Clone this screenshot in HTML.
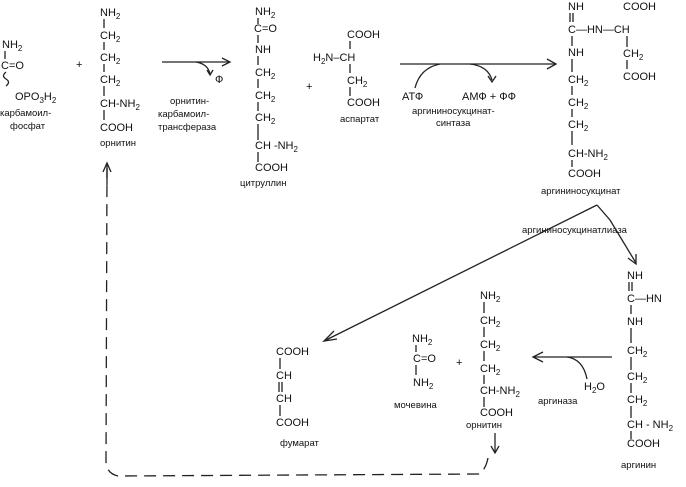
<!DOCTYPE html>
<html><head><meta charset="utf-8"><style>
html,body{margin:0;padding:0;background:#fff;}
svg{display:block;}
text{font-family:"Liberation Sans",sans-serif;font-size:11px;fill:#111;}
.s{font-size:8px;}
.l{font-size:9.5px;}
line,path,polyline{stroke:#222;stroke-width:1.3;fill:none;}
</style></head><body>
<svg width="686" height="487" viewBox="0 0 686 487">
<!-- carbamoyl phosphate -->
<text x="2" y="48">NH<tspan class="s" dy="3">2</tspan></text>
<line x1="5" y1="51" x2="5" y2="59"/>
<text x="1" y="69">C=O</text>
<path d="M6 72 q-5 4 0 7 q5 3 0 7"/>
<text x="15" y="100">OPO<tspan class="s" dy="3">3</tspan><tspan dy="-3">H</tspan><tspan class="s" dy="3">2</tspan></text>
<text class="l" x="0" y="116">карбамоил-</text>
<text class="l" x="10" y="129">фосфат</text>
<text x="76" y="68" font-size="13">+</text>
<!-- ornithine -->
<text x="100" y="16">NH<tspan class="s" dy="3">2</tspan></text>
<line x1="104" y1="19" x2="104" y2="28"/>
<text x="100" y="39">CH<tspan class="s" dy="3">2</tspan></text>
<line x1="104" y1="42" x2="104" y2="50"/>
<text x="100" y="61">CH<tspan class="s" dy="3">2</tspan></text>
<line x1="104" y1="64" x2="104" y2="72"/>
<text x="100" y="83">CH<tspan class="s" dy="3">2</tspan></text>
<line x1="104" y1="86" x2="104" y2="96"/>
<text x="100" y="107">CH-NH<tspan class="s" dy="3">2</tspan></text>
<line x1="104" y1="110" x2="104" y2="120"/>
<text x="100" y="131">COOH</text>
<text class="l" x="100" y="146">орнитин</text>
<!-- arrow 1 -->
<line x1="162" y1="62" x2="229" y2="62"/>
<polyline points="222,58 230,62 222,66"/>
<path d="M196 62 q12 2 14 12"/>
<polyline points="207,70 210,75 213,70"/>
<text x="215" y="83">Ф</text>
<text class="l" x="170" y="104">орнитин-</text>
<text class="l" x="158" y="117">карбамоил-</text>
<text class="l" x="158" y="130">трансфераза</text>
<!-- citrulline -->
<text x="255" y="15">NH<tspan class="s" dy="3">2</tspan></text>
<line x1="258" y1="18" x2="258" y2="24"/>
<text x="254" y="32">C=O</text>
<line x1="258" y1="35" x2="258" y2="43"/>
<text x="255" y="53">NH</text>
<line x1="258" y1="56" x2="258" y2="65"/>
<text x="255" y="76">CH<tspan class="s" dy="3">2</tspan></text>
<line x1="258" y1="79" x2="258" y2="88"/>
<text x="255" y="99">CH<tspan class="s" dy="3">2</tspan></text>
<line x1="258" y1="102" x2="258" y2="111"/>
<text x="255" y="121">CH<tspan class="s" dy="3">2</tspan></text>
<line x1="258" y1="124" x2="258" y2="140"/>
<text x="255" y="149">CH -NH<tspan class="s" dy="3">2</tspan></text>
<line x1="258" y1="152" x2="258" y2="162"/>
<text x="255" y="171">COOH</text>
<text class="l" x="240" y="186">цитруллин</text>
<text x="306" y="90" font-size="13">+</text>
<!-- aspartate -->
<text x="347" y="38">COOH</text>
<line x1="350" y1="41" x2="350" y2="49"/>
<text x="313" y="61">H<tspan class="s" dy="3">2</tspan><tspan dy="-3">N</tspan>–CH</text>
<line x1="350" y1="64" x2="350" y2="73"/>
<text x="347" y="84">CH<tspan class="s" dy="3">2</tspan></text>
<line x1="350" y1="87" x2="350" y2="96"/>
<text x="347" y="106">COOH</text>
<text class="l" x="340" y="122">аспартат</text>
<!-- arrow 2 -->
<line x1="400" y1="64" x2="556" y2="64"/>
<polyline points="547,59 556,64 547,69"/>
<path d="M415 88 q5 -20 25 -24"/>
<path d="M470 64 q18 2 22 16"/>
<polyline points="488,76 492,82 496,76"/>
<text x="402" y="100">АТФ</text>
<text x="462" y="100">АМФ + ФФ</text>
<text class="l" x="412" y="114">аргининосукцинат-</text>
<text class="l" x="436" y="126">синтаза</text>
<!-- argininosuccinate -->
<text x="568" y="10">NH</text>
<line x1="570" y1="13" x2="570" y2="22"/><line x1="573" y1="13" x2="573" y2="22"/>
<text x="568" y="33">C—HN—CH</text>
<text x="623" y="10">COOH</text>
<line x1="627" y1="36" x2="627" y2="47"/>
<text x="623" y="57">CH<tspan class="s" dy="3">2</tspan></text>
<line x1="627" y1="60" x2="627" y2="69"/>
<text x="623" y="80">COOH</text>
<line x1="572" y1="36" x2="572" y2="46"/>
<text x="568" y="56">NH</text>
<line x1="572" y1="59" x2="572" y2="72"/>
<text x="568" y="83">CH<tspan class="s" dy="3">2</tspan></text>
<line x1="572" y1="86" x2="572" y2="95"/>
<text x="568" y="106">CH<tspan class="s" dy="3">2</tspan></text>
<line x1="572" y1="109" x2="572" y2="117"/>
<text x="568" y="128">CH<tspan class="s" dy="3">2</tspan></text>
<line x1="572" y1="131" x2="572" y2="145"/>
<text x="568" y="157">CH-NH<tspan class="s" dy="3">2</tspan></text>
<line x1="572" y1="160" x2="572" y2="167"/>
<text x="568" y="177">COOH</text>
<text class="l" x="541" y="194">аргининосукцинат</text>
<!-- lyase -->
<text class="l" x="522" y="233">аргининосукцинатлиаза</text>
<line x1="597" y1="205" x2="326" y2="340"/>
<polyline points="334,331 324,341 337,339"/>
<polyline points="597,205 610,220 636,263"/>
<polyline points="628,258 636,264 636,254"/>
<!-- arginine -->
<text x="627" y="279">NH</text>
<line x1="629" y1="282" x2="629" y2="291"/><line x1="632" y1="282" x2="632" y2="291"/>
<text x="627" y="302">C—HN</text>
<line x1="631" y1="305" x2="631" y2="314"/>
<text x="627" y="325">NH</text>
<line x1="631" y1="328" x2="631" y2="343"/>
<text x="627" y="354">CH<tspan class="s" dy="3">2</tspan></text>
<line x1="631" y1="357" x2="631" y2="370"/>
<text x="627" y="380">CH<tspan class="s" dy="3">2</tspan></text>
<line x1="631" y1="383" x2="631" y2="393"/>
<text x="627" y="403">CH<tspan class="s" dy="3">2</tspan></text>
<line x1="631" y1="406" x2="631" y2="418"/>
<text x="627" y="428">CH - NH<tspan class="s" dy="3">2</tspan></text>
<line x1="631" y1="431" x2="631" y2="439"/>
<text x="627" y="447">COOH</text>
<text class="l" x="621" y="468">аргинин</text>
<!-- arginase -->
<line x1="612" y1="357" x2="533" y2="357"/>
<polyline points="543,352 533,357 543,362"/>
<path d="M567 357 q16 2 20 22"/>
<text x="584" y="390">H<tspan class="s" dy="3">2</tspan><tspan dy="-3">O</tspan></text>
<text class="l" x="538" y="404">аргиназа</text>
<!-- ornithine bottom -->
<text x="480" y="299">NH<tspan class="s" dy="3">2</tspan></text>
<line x1="484" y1="302" x2="484" y2="313"/>
<text x="480" y="324">CH<tspan class="s" dy="3">2</tspan></text>
<line x1="484" y1="327" x2="484" y2="337"/>
<text x="480" y="348">CH<tspan class="s" dy="3">2</tspan></text>
<line x1="484" y1="351" x2="484" y2="361"/>
<text x="480" y="372">CH<tspan class="s" dy="3">2</tspan></text>
<line x1="484" y1="375" x2="484" y2="384"/>
<text x="480" y="394">CH-NH<tspan class="s" dy="3">2</tspan></text>
<line x1="484" y1="397" x2="484" y2="407"/>
<text x="480" y="416">COOH</text>
<text class="l" x="466" y="428">орнитин</text>
<line x1="495" y1="433" x2="495" y2="452"/>
<polyline points="491,446 495,453 499,446"/>
<text x="456" y="366" font-size="13">+</text>
<!-- urea -->
<text x="412" y="342">NH<tspan class="s" dy="3">2</tspan></text>
<line x1="416" y1="345" x2="416" y2="352"/>
<text x="413" y="362">C=O</text>
<line x1="416" y1="365" x2="416" y2="375"/>
<text x="413" y="386">NH<tspan class="s" dy="3">2</tspan></text>
<text class="l" x="394" y="408">мочевина</text>
<!-- fumarate -->
<text x="276" y="355">COOH</text>
<line x1="280" y1="358" x2="280" y2="369"/>
<text x="276" y="379">CH</text>
<line x1="279" y1="382" x2="279" y2="392"/><line x1="282" y1="382" x2="282" y2="392"/>
<text x="276" y="402">CH</text>
<line x1="280" y1="405" x2="280" y2="416"/>
<text x="276" y="426">COOH</text>
<text class="l" x="280" y="446">фумарат</text>
<!-- dashed return -->
<path d="M488 458 q-2 10 -8 16 L118 476 q-10 -2 -12 -12 L107 168" stroke-dasharray="12,7"/>
<line x1="107" y1="185" x2="107" y2="164"/>
<polyline points="103,172 107,163 111,172"/>
</svg>
</body></html>
